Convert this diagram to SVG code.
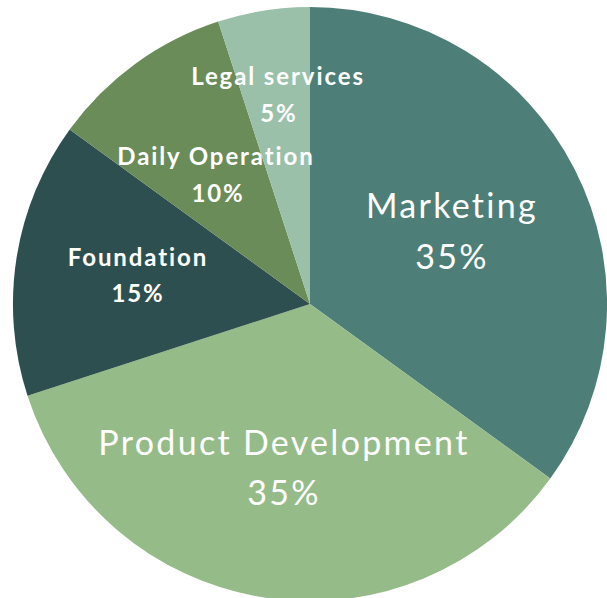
<svg xmlns="http://www.w3.org/2000/svg" width="607" height="598" viewBox="0 0 607 598">
<style>
.lbl{fill:#fff;font-family:Lato,"Noto Sans",sans-serif;text-anchor:middle}
.big{font-size:34px;letter-spacing:2.3px}
.small{font-size:24px;font-weight:bold;letter-spacing:1.9px}
</style>
<rect width="607" height="598" fill="#fff"/>
<g id="marketing"><path d="M310,304 L310,7 A297,297 0 0 1 550.3,478.6 Z" fill="#4D7F78"/></g>
<g id="product"><path d="M310,304 L550.3,478.6 A297,297 0 0 1 27.5,395.8 Z" fill="#95BB88"/></g>
<g id="foundation"><path d="M310,304 L27.5,395.8 A297,297 0 0 1 69.7,129.4 Z" fill="#2E4F4F"/></g>
<g id="daily"><path d="M310,304 L69.7,129.4 A297,297 0 0 1 218.2,21.5 Z" fill="#6A8C58"/></g>
<g id="legal"><path d="M310,304 L218.2,21.5 A297,297 0 0 1 310,7 Z" fill="#9BC0AA"/></g>
<g id="labels">
<g id="marketing-label"><text class="lbl big" x="452" y="218">Marketing</text><text class="lbl big" x="452" y="269">35%</text></g>
<g id="product-label"><text class="lbl big" x="284" y="455">Product Development</text><text class="lbl big" x="284" y="505">35%</text></g>
<g id="foundation-label"><text class="lbl small" x="138" y="266">Foundation</text><text class="lbl small" x="138" y="302">15%</text></g>
<g id="daily-label"><text class="lbl small" x="216" y="165">Daily Operation</text><text class="lbl small" x="218" y="202">10%</text></g>
<g id="legal-label"><text class="lbl small" x="278" y="85">Legal services</text><text class="lbl small" x="279" y="122">5%</text></g>
</g>
<g id="connectors"/>
</svg>
